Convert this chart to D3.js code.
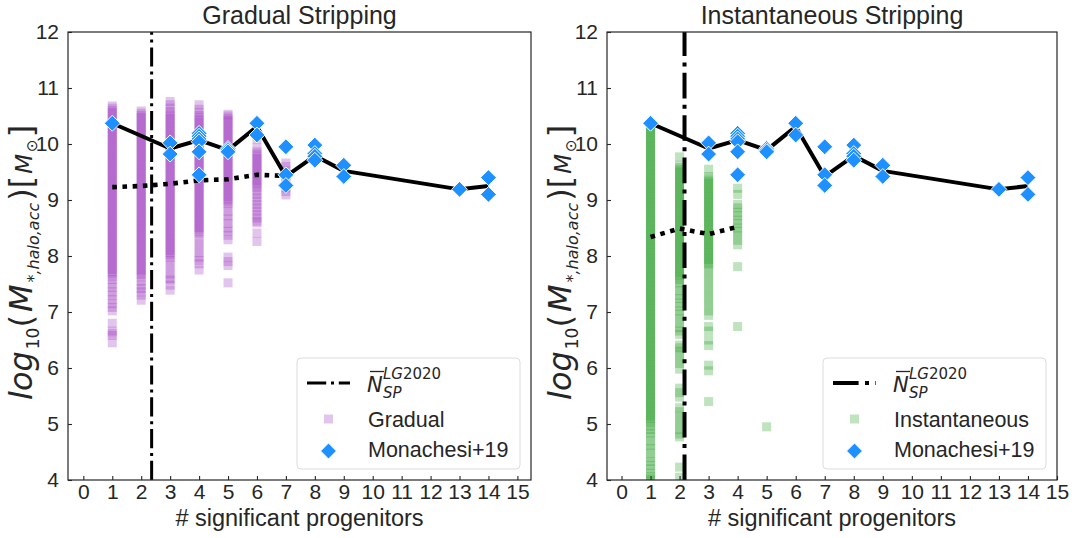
<!DOCTYPE html>
<html>
<head>
<meta charset="utf-8">
<script src="https://cdn.jsdelivr.net/npm/d3@7"></script>
<style>
  body { margin: 0; background: #fff; }
  text { fill: #262626; }
</style>
</head>
<body>
<svg id="chart" width="1076" height="538"></svg>
<script>
// tick labels
const xTicks = [0, 1, 2, 3, 4, 5, 6, 7, 8, 9, 10, 11, 12, 13, 14, 15];
const yTicks = [4, 5, 6, 7, 8, 9, 10, 11, 12];

// Monachesi+19 observations (same in both panels)
const monX = [1, 3, 3, 4, 4, 4, 4, 4, 4, 5, 5, 5, 6, 6, 7, 7, 7, 8, 8, 8, 8, 9, 9, 13, 14, 14];
const monY = [10.37, 10.02, 9.82, 10.19, 10.14, 10.09, 10.04, 9.86, 9.45, 9.92, 9.89, 9.86,
              10.37, 10.16, 9.95, 9.45, 9.26, 9.98, 9.83, 9.78, 9.71, 9.62, 9.42, 9.19, 9.40, 9.10];

// median of the observations (solid black)
const medX = [1, 3, 4, 5, 6, 7, 8, 9, 13, 14];
const medY = [10.37, 9.92, 10.07, 9.89, 10.31, 9.42, 9.79, 9.52, 9.19, 9.25];

// median of the simulated haloes (dotted black)
const dotGradX = [1, 2, 3, 4, 5, 6, 7];
const dotGradY = [9.23, 9.25, 9.29, 9.35, 9.37, 9.45, 9.43];
const dotInstX = [1, 2, 3, 4];
const dotInstY = [8.34, 8.49, 8.39, 8.52];

// mean number of significant progenitors
const nspGrad = 2.36;
const nspInst = 2.17;

// Gradual stripping, one array per number of progenitors (1..7)
const gradual1 = [10.68, 10.64, 10.60, 10.56, 10.52, 10.48, 10.44, 10.40, 10.36, 10.32, 10.28, 10.24, 10.20,
  10.16, 10.12, 10.08, 10.04, 10.00, 9.96, 9.92, 9.88, 9.84, 9.80, 9.76, 9.72, 9.68, 9.64, 9.60, 9.56,
  9.52, 9.48, 9.44, 9.40, 9.36, 9.32, 9.28, 9.24, 9.20, 9.16, 9.12, 9.08, 9.04, 9.00, 8.96, 8.92, 8.88,
  8.84, 8.80, 8.76, 8.72, 8.68, 8.64, 8.60, 8.56, 8.52, 8.48, 8.44, 8.40, 8.36, 8.32, 8.28, 8.24, 8.20,
  8.16, 8.12, 8.08, 8.04, 8.00, 7.96, 7.92, 7.88, 7.84, 7.80, 7.76, 7.72, 7.68, 7.64, 7.58, 7.50, 7.44,
  7.36, 7.30, 7.22, 7.15, 7.08, 7.02, 6.80, 6.66, 6.62, 6.58, 6.45];
const gradual2 = [10.59, 10.55, 10.51, 10.47, 10.43, 10.39, 10.35, 10.31, 10.27, 10.23, 10.19, 10.15, 10.11,
  10.07, 10.03, 9.99, 9.95, 9.91, 9.87, 9.83, 9.79, 9.75, 9.71, 9.67, 9.63, 9.59, 9.55, 9.51, 9.47, 9.43,
  9.39, 9.35, 9.31, 9.27, 9.23, 9.19, 9.15, 9.11, 9.07, 9.03, 8.99, 8.95, 8.91, 8.87, 8.83, 8.79, 8.75,
  8.71, 8.67, 8.63, 8.59, 8.55, 8.51, 8.47, 8.43, 8.39, 8.35, 8.31, 8.27, 8.23, 8.19, 8.15, 8.11, 8.07,
  8.03, 7.99, 7.95, 7.91, 7.87, 7.83, 7.79, 7.75, 7.71, 7.67, 7.63, 7.55, 7.48, 7.42, 7.36, 7.30, 7.21];
const gradual3 = [10.76, 10.70, 10.64, 10.58, 10.54, 10.50, 10.46, 10.42, 10.38, 10.34, 10.30, 10.26, 10.22,
  10.18, 10.14, 10.10, 10.06, 10.02, 9.98, 9.94, 9.90, 9.86, 9.82, 9.78, 9.74, 9.70, 9.66, 9.62, 9.58,
  9.54, 9.50, 9.46, 9.42, 9.38, 9.34, 9.30, 9.26, 9.22, 9.18, 9.14, 9.10, 9.06, 9.02, 8.98, 8.94, 8.90,
  8.86, 8.82, 8.78, 8.74, 8.70, 8.66, 8.62, 8.58, 8.54, 8.50, 8.46, 8.42, 8.38, 8.34, 8.30, 8.26, 8.22,
  8.18, 8.14, 8.10, 8.06, 8.02, 7.98, 7.92, 7.84, 7.76, 7.68, 7.60, 7.57, 7.48, 7.39];
const gradual4 = [10.70, 10.62, 10.56, 10.51, 10.47, 10.43, 10.39, 10.35, 10.31, 10.27, 10.23, 10.19, 10.15,
  10.11, 10.07, 10.03, 9.99, 9.95, 9.91, 9.87, 9.83, 9.79, 9.75, 9.71, 9.67, 9.63, 9.59, 9.55, 9.51, 9.47,
  9.43, 9.39, 9.35, 9.31, 9.27, 9.23, 9.19, 9.15, 9.11, 9.07, 9.03, 8.99, 8.95, 8.91, 8.87, 8.83, 8.79,
  8.75, 8.71, 8.67, 8.63, 8.59, 8.55, 8.51, 8.47, 8.43, 8.39, 8.30, 8.22, 8.14, 8.06, 7.98, 7.92, 7.86, 7.75];
const gradual5 = [10.53, 10.50, 10.46, 10.42, 10.38, 10.34, 10.30, 10.26, 10.22, 10.18, 10.14, 10.10, 10.06,
  10.02, 9.98, 9.94, 9.90, 9.86, 9.82, 9.78, 9.74, 9.70, 9.66, 9.62, 9.58, 9.54, 9.50, 9.46, 9.42, 9.38,
  9.34, 9.30, 9.26, 9.22, 9.18, 9.14, 9.10, 9.06, 9.02, 8.98, 8.94, 8.88, 8.80, 8.72, 8.66, 8.58, 8.50,
  8.44, 8.37, 8.29, 7.98, 7.90, 7.83, 7.52];
const gradual6 = [10.08, 9.93, 9.86, 9.82, 9.78, 9.74, 9.70, 9.66, 9.62, 9.58, 9.54, 9.50, 9.46, 9.42, 9.38,
  9.34, 9.30, 9.26, 9.22, 9.16, 9.10, 9.04, 8.98, 8.92, 8.86, 8.80, 8.74, 8.68, 8.62, 8.59, 8.41, 8.26];
const gradual7 = [9.66, 9.60, 9.52, 9.45, 9.38, 9.30, 9.22, 9.15, 9.09];

// Instantaneous stripping, one array per number of progenitors (1..5)
const inst1 = [10.34, 10.30, 10.26, 10.22, 10.18, 10.14, 10.10, 10.06, 10.02, 9.98, 9.94, 9.90, 9.86, 9.82,
  9.78, 9.74, 9.70, 9.66, 9.62, 9.58, 9.54, 9.50, 9.46, 9.42, 9.38, 9.34, 9.30, 9.26, 9.22, 9.18, 9.14,
  9.10, 9.06, 9.02, 8.98, 8.94, 8.90, 8.86, 8.82, 8.78, 8.74, 8.70, 8.66, 8.62, 8.58, 8.54, 8.50, 8.46,
  8.42, 8.38, 8.34, 8.30, 8.26, 8.22, 8.18, 8.14, 8.10, 8.06, 8.02, 7.98, 7.94, 7.90, 7.86, 7.82, 7.78,
  7.74, 7.70, 7.66, 7.62, 7.58, 7.54, 7.50, 7.46, 7.42, 7.38, 7.34, 7.30, 7.26, 7.22, 7.18, 7.14, 7.10,
  7.06, 7.02, 6.98, 6.94, 6.90, 6.86, 6.82, 6.78, 6.74, 6.70, 6.66, 6.62, 6.58, 6.54, 6.50, 6.46, 6.42,
  6.38, 6.34, 6.30, 6.26, 6.22, 6.18, 6.14, 6.10, 6.06, 6.02, 5.98, 5.94, 5.90, 5.86, 5.82, 5.78, 5.74,
  5.70, 5.66, 5.62, 5.58, 5.54, 5.50, 5.46, 5.42, 5.38, 5.34, 5.30, 5.26, 5.22, 5.18, 5.14, 5.10, 5.06,
  5.02, 4.96, 4.90, 4.84, 4.78, 4.70, 4.62, 4.56, 4.48, 4.40, 4.33, 4.26, 4.20, 4.12, 4.06, 4.02, 3.98];
const inst2 = [9.77, 9.62, 9.58, 9.54, 9.50, 9.46, 9.42, 9.38, 9.34, 9.30, 9.26, 9.22, 9.18, 9.14, 9.10, 9.06,
  9.02, 8.98, 8.94, 8.90, 8.86, 8.82, 8.78, 8.74, 8.70, 8.66, 8.62, 8.58, 8.54, 8.50, 8.46, 8.42, 8.38,
  8.34, 8.30, 8.26, 8.22, 8.18, 8.14, 8.10, 8.06, 8.02, 7.98, 7.94, 7.90, 7.86, 7.82, 7.78, 7.74, 7.70,
  7.66, 7.62, 7.58, 7.52, 7.46, 7.38, 7.30, 7.24, 7.16, 7.10, 7.02, 6.96, 6.88, 6.80, 6.72, 6.66, 6.60,
  6.41, 6.36, 6.30, 6.24, 6.14, 6.08, 5.98, 5.64, 5.56, 5.48, 5.29, 5.22, 5.14, 5.06, 4.98, 4.90, 4.82,
  4.77, 4.23, 4.05];
const inst3 = [9.55, 9.42, 9.38, 9.34, 9.30, 9.26, 9.22, 9.18, 9.14, 9.10, 9.06, 9.02, 8.98, 8.94, 8.90, 8.86,
  8.82, 8.78, 8.74, 8.70, 8.66, 8.62, 8.58, 8.54, 8.50, 8.46, 8.42, 8.38, 8.34, 8.30, 8.26, 8.22, 8.18,
  8.14, 8.10, 8.06, 8.02, 7.98, 7.94, 7.90, 7.86, 7.82, 7.74, 7.66, 7.58, 7.50, 7.42, 7.34, 7.26, 7.18,
  7.10, 7.02, 6.94, 6.74, 6.66, 6.50, 6.40, 6.05, 5.95, 5.40];
const inst4 = [9.21, 9.10, 8.92, 8.86, 8.78, 8.72, 8.64, 8.58, 8.50, 8.44, 8.36, 8.28, 8.20, 7.81, 6.74];
const inst5 = [4.95];

const svg = d3.select("#chart");
const TEXT = "#262626";
const SANS = "'Liberation Sans', Arial, sans-serif";
const MATH = "'DejaVu Sans', sans-serif";

const y = d3.scaleLinear().domain([4, 12]).range([480, 32]);

function drawPanel(p) {
  const x = d3.scaleLinear().domain(p.xDomain).range([p.left, p.right]);
  const g = svg.append("g");
  const clipId = "clip-" + p.name;

  g.append("clipPath").attr("id", clipId)
    .append("rect")
      .attr("x", p.left).attr("y", 32)
      .attr("width", p.right - p.left).attr("height", 448);

  // simulated haloes
  const pts = [];
  p.columns.forEach((col, i) => col.forEach(v => pts.push([i + 1, v])));
  g.append("g").attr("clip-path", "url(#" + clipId + ")")
    .selectAll("rect")
    .data(pts)
    .enter()
    .append("rect")
      .attr("x", d => x(d[0]) - 4.5)
      .attr("y", d => y(d[1]) - 4.5)
      .attr("width", 9)
      .attr("height", 9)
      .attr("fill", p.color)
      .attr("fill-opacity", 0.3);

  // mean N_SP
  g.append("line")
    .attr("x1", x(p.nsp)).attr("x2", x(p.nsp))
    .attr("y1", y(4)).attr("y2", y(12))
    .attr("stroke", "#000")
    .attr("stroke-width", p.nspWidth)
    .attr("stroke-dasharray", p.nspDash);

  const line = d3.line().x(d => x(d[0])).y(d => y(d[1]));

  g.append("path")
    .datum(medX.map((v, i) => [v, medY[i]]))
    .attr("d", line)
    .attr("fill", "none")
    .attr("stroke", "#000")
    .attr("stroke-width", 4)
    .attr("stroke-linejoin", "round");

  g.append("path")
    .datum(p.dotX.map((v, i) => [v, p.dotY[i]]))
    .attr("d", line)
    .attr("fill", "none")
    .attr("stroke", "#000")
    .attr("stroke-width", 4.6)
    .attr("stroke-dasharray", "4.6,5.6");

  // observations
  const diamond = d3.symbol().type(d3.symbolSquare).size(126);
  g.append("g")
    .selectAll("path")
    .data(monX.map((v, i) => [v, monY[i]]))
    .enter()
    .append("path")
      .attr("d", diamond)
      .attr("transform", d => "translate(" + x(d[0]) + "," + y(d[1]) + ") rotate(45)")
      .attr("fill", "#1e90ff")
      .attr("stroke", "#fff")
      .attr("stroke-width", 0.9);

  // frame
  g.append("rect")
    .attr("x", p.left).attr("y", 32)
    .attr("width", p.right - p.left).attr("height", 448)
    .attr("fill", "none")
    .attr("stroke", TEXT)
    .attr("stroke-width", 1.2);

  // axes with inward ticks
  const xAxis = g.append("g")
    .attr("transform", "translate(0,480)")
    .call(d3.axisBottom(x).tickValues(xTicks).tickSize(-4).tickPadding(4).tickFormat(d3.format("d")));
  const yAxis = g.append("g")
    .attr("transform", "translate(" + p.left + ",0)")
    .call(d3.axisLeft(y).tickValues(yTicks).tickSize(-4).tickPadding(9).tickFormat(d3.format("d")));
  [xAxis, yAxis].forEach(a => {
    a.select(".domain").remove();
    a.selectAll(".tick line").attr("stroke", TEXT).attr("stroke-width", 1.1);
    a.selectAll(".tick text")
      .attr("fill", TEXT)
      .style("font-family", SANS)
      .style("font-size", "21px");
  });

  const cx = (p.left + p.right) / 2;

  g.append("text")
    .attr("x", cx).attr("y", 24)
    .attr("text-anchor", "middle")
    .style("font-family", SANS).style("font-size", "25px")
    .text(p.title);

  g.append("text")
    .attr("x", cx).attr("y", 526)
    .attr("text-anchor", "middle")
    .style("font-family", SANS).style("font-size", "23.5px")
    .text("# significant progenitors");

  // y label in math style, read from bottom to top
  const yl = g.append("text")
    .attr("transform", "translate(" + p.ylabelX + ",400) rotate(-90)")
    .attr("text-anchor", "start")
    .style("font-family", MATH).style("font-size", "32px");
  yl.append("tspan").style("font-style", "italic").text("log");
  yl.append("tspan").attr("dx", 2).attr("dy", 7).style("font-size", "17px").text("10");
  yl.append("tspan").attr("dy", -7).text("(");
  yl.append("tspan").attr("dx", 3).style("font-style", "italic").text("M");
  yl.append("tspan").attr("dx", 2).attr("dy", 7).style("font-size", "16px").style("font-style", "italic").text("*,halo,acc");
  yl.append("tspan").attr("dx", 2).attr("dy", -7).text(")");
  yl.append("tspan").text("[");
  yl.append("tspan").attr("dx", 2).style("font-size", "23px").style("font-style", "italic").text("M");
  yl.append("tspan").attr("dx", 2).attr("dy", 5).style("font-size", "15px").text("\u2299");
  yl.append("tspan").attr("dy", -5).attr("dx", 2).text("]");

  // legend
  const lx = p.right - 11 - 223;
  const ly = 480 - 11 - 111;
  const lg = g.append("g");
  lg.append("rect")
    .attr("x", lx).attr("y", ly)
    .attr("width", 223).attr("height", 111)
    .attr("rx", 4)
    .attr("fill", "#fff").attr("fill-opacity", 0.8)
    .attr("stroke", "#dcdcdc").attr("stroke-width", 1);

  lg.append("line")
    .attr("x1", lx + 10).attr("x2", lx + 53)
    .attr("y1", ly + 25).attr("y2", ly + 25)
    .attr("stroke", "#000")
    .attr("stroke-width", p.nspWidth)
    .attr("stroke-dasharray", p.nspDash);

  const tx = lx + 70;
  const nl = lg.append("text")
    .attr("x", tx).attr("y", ly + 34)
    .style("font-family", MATH).style("font-size", "21px");
  nl.append("tspan").style("font-style", "italic").text("N");
  nl.append("tspan").attr("x", tx + 16).attr("dy", 5.5)
    .style("font-size", "15px").style("font-style", "italic").text("SP");
  nl.append("tspan").attr("x", tx + 16).attr("dy", -18.5)
    .style("font-size", "15px").style("font-style", "italic").text("LG");
  nl.append("tspan").style("font-size", "15px").text("2020");
  lg.append("line")
    .attr("x1", tx + 3).attr("x2", tx + 17)
    .attr("y1", ly + 13.5).attr("y2", ly + 13.5)
    .attr("stroke", TEXT).attr("stroke-width", 1.3);

  lg.append("rect")
    .attr("x", lx + 31.5 - 4.5).attr("y", ly + 61 - 4.5)
    .attr("width", 9).attr("height", 9)
    .attr("fill", p.color).attr("fill-opacity", 0.3);
  lg.append("text")
    .attr("x", lx + 71).attr("y", ly + 69)
    .style("font-family", SANS).style("font-size", "21.5px")
    .text(p.seriesName);

  lg.append("path")
    .attr("d", diamond)
    .attr("transform", "translate(" + (lx + 31.5) + "," + (ly + 93) + ") rotate(45)")
    .attr("fill", "#1e90ff")
    .attr("stroke", "#fff")
    .attr("stroke-width", 0.9);
  lg.append("text")
    .attr("x", lx + 71).attr("y", ly + 99)
    .style("font-family", SANS).style("font-size", "21.5px")
    .text("Monachesi+19");
}

drawPanel({
  name: "gradual",
  left: 68, right: 531,
  xDomain: [-0.53, 15.47],
  title: "Gradual Stripping",
  seriesName: "Gradual",
  color: "#a040c0",
  columns: [gradual1, gradual2, gradual3, gradual4, gradual5, gradual6, gradual7],
  nsp: nspGrad, nspWidth: 3, nspDash: "19.2,4.8,3,4.8",
  dotX: dotGradX, dotY: dotGradY,
  ylabelX: 32
});

drawPanel({
  name: "instant",
  left: 607, right: 1057,
  xDomain: [-0.5, 15],
  title: "Instantaneous Stripping",
  seriesName: "Instantaneous",
  color: "#2ca02c",
  columns: [inst1, inst2, inst3, inst4, inst5],
  nsp: nspInst, nspWidth: 4, nspDash: "25.6,6.4,4,6.4",
  dotX: dotInstX, dotY: dotInstY,
  ylabelX: 571
});
</script>
</body>
</html>
